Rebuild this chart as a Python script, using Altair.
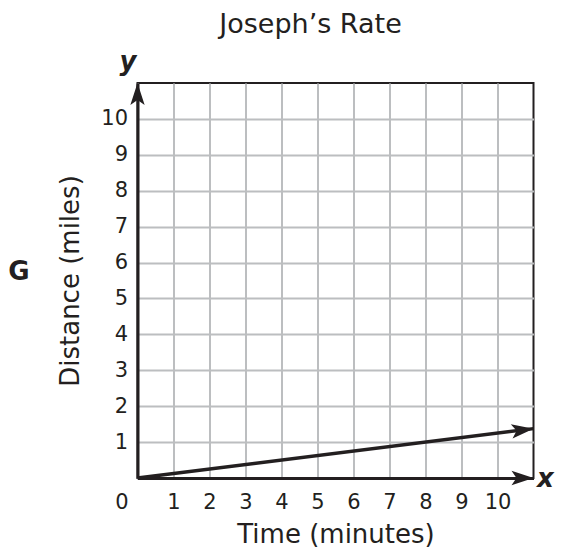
import altair as alt
import pandas as pd

# ---- data ----
line_x = [0, 11]
line_y = [0, 1.375]
x_ticks = [0, 1, 2, 3, 4, 5, 6, 7, 8, 9, 10]
y_ticks = [1, 2, 3, 4, 5, 6, 7, 8, 9, 10]
x_max = 11
y_max = 11

FONT = "DejaVu Sans"
INK = "#231f20"
GRID = "#bcbec0"
ARROW = "M0,0 L-2,-0.65 L-1.55,0 L-2,0.65 Z"

line_df = pd.DataFrame({"x": line_x, "y": line_y})
tip_df = line_df.iloc[[-1]]
xtip_df = pd.DataFrame({"x": [x_max], "y": [0]})
ytip_df = pd.DataFrame({"x": [0], "y": [y_max]})

xs = alt.Scale(domain=[0, x_max], nice=False, zero=False)
ys = alt.Scale(domain=[0, y_max], nice=False, zero=False)

x_axis = alt.Axis(
    values=x_ticks, grid=True, gridColor=GRID, gridWidth=2, ticks=False,
    domainColor=INK, domainWidth=3, labelFont=FONT, labelFontSize=21,
    labelColor=INK, labelPadding=13, labelAngle=0, labelOverlap=False,
    labelFlush=False,
    labelOffset={"condition": {"test": "datum.value == 0", "value": -16}, "value": 0},
    title="Time (minutes)", titleFont=FONT, titleFontSize=26,
    titleFontWeight="normal", titleColor=INK,
    titleX=198, titleY=56, titleBaseline="middle", titleAlign="center",
)
y_axis = alt.Axis(
    values=y_ticks, grid=True, gridColor=GRID, gridWidth=2, ticks=False,
    domainColor=INK, domainWidth=3, labelFont=FONT, labelFontSize=21,
    labelColor=INK, labelPadding=10, labelOverlap=False, labelFlush=False,
    title="Distance (miles)", titleFont=FONT, titleFontSize=26,
    titleFontWeight="normal", titleColor=INK,
    titleX=-67.5, titleY=197.5, titleAngle=270, titleBaseline="middle",
    titleAlign="center",
)

X = alt.X("x:Q", scale=xs, axis=x_axis)
Y = alt.Y("y:Q", scale=ys, axis=y_axis)

line = alt.Chart(line_df).mark_line(color=INK, strokeWidth=3.5).encode(x=X, y=Y)


def arrow(df, ang):
    return alt.Chart(df).mark_point(
        shape=ARROW, size=484, filled=True, color=INK, opacity=1, angle=ang
    ).encode(x=X, y=Y)


arrow_line = arrow(tip_df, 352.9)
arrow_x = arrow(xtip_df, 0)
arrow_y = arrow(ytip_df, 270)


def label(txt, px, py, size, weight="normal", style="normal"):
    return alt.Chart(pd.DataFrame({"t": [txt]})).mark_text(
        font=FONT, fontSize=size, fontWeight=weight, fontStyle=style,
        color=INK, align="center", baseline="middle",
    ).encode(x=alt.value(px), y=alt.value(py), text="t:N")


title = label("Joseph’s Rate", 173, -58, 27)
ylab = label("y", -9.5, -21, 26, "bold", "italic")
xlab = label("x", 408, 396, 26, "bold", "italic")
glab = label("G", -118.5, 189, 26, "bold")

chart = alt.layer(line, arrow_line, arrow_x, arrow_y, title, ylab, xlab, glab).properties(
    width=396, height=395,
    autosize=alt.AutoSizeParams(type="none"),
    padding={"left": 129.5, "top": 75, "right": 21, "bottom": 72},
    background="white",
).configure_view(stroke=INK, strokeWidth=2)

chart.save("out.html", embed_options={"renderer": "svg", "actions": False})
